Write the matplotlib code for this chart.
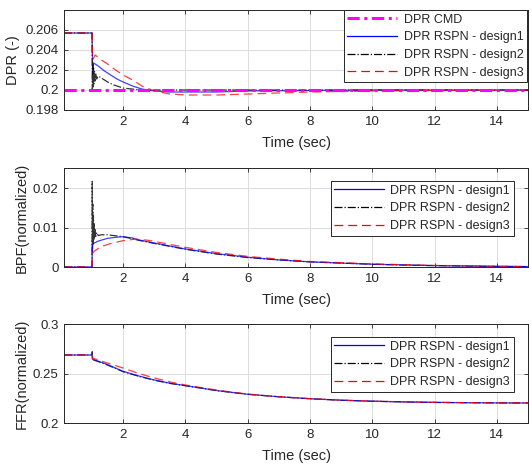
import matplotlib
matplotlib.use("Agg")
import matplotlib.pyplot as plt
from matplotlib.lines import Line2D

plt.rcParams['font.family'] = ['Liberation Sans', 'DejaVu Sans']

# ---------------- data ----------------
dpr_cmd_t = [0.1, 15.0]
dpr_cmd = [0.2, 0.2]

dpr1_t = [0.1, 1.0, 1.02, 1.05, 1.2, 1.4, 1.6, 1.8, 2.0, 2.3, 2.6, 3.0, 3.5, 4.0, 5.0, 6.0, 8.0, 10.0, 15.0]
dpr1 = [0.2057, 0.2057, 0.2016, 0.2027, 0.2024, 0.2019, 0.2015, 0.2011, 0.2008, 0.2004, 0.2001,
        0.1999, 0.1998, 0.1998, 0.1998, 0.1999, 0.19995, 0.2, 0.2]

dpr2_t = [0.1, 1.0, 1.01, 1.02, 1.035, 1.05, 1.065, 1.08, 1.10, 1.12, 1.15, 1.2, 1.3, 1.5, 1.7,
          2.0, 2.4, 3.0, 15.0]
dpr2 = [0.2057, 0.2057, 0.2000, 0.2026, 0.2003, 0.2022, 0.2006, 0.2019, 0.2009, 0.2016, 0.2011,
        0.2014, 0.2012, 0.2008, 0.2005, 0.2002, 0.20005, 0.2, 0.2]

dpr3_t = [0.1, 1.0, 1.02, 1.1, 1.3, 1.5, 1.8, 2.0, 2.3, 2.6, 3.0, 3.5, 4.0, 4.5, 5.0, 6.0, 7.0,
          8.0, 10.0, 12.0, 15.0]
dpr3 = [0.2057, 0.2057, 0.2030, 0.2035, 0.2030, 0.2026, 0.2019, 0.2015, 0.2010, 0.2004, 0.1999,
        0.1996, 0.1995, 0.1995, 0.1995, 0.1996, 0.1997, 0.1998, 0.1999, 0.19995, 0.2]

bpf1_t = [0.1, 1.0, 1.01, 1.05, 1.2, 1.5, 1.8, 2.0, 2.3, 2.5, 3.0, 4.0, 5.0, 6.0, 7.0, 8.0, 10.0,
          12.0, 14.0, 15.0]
bpf1 = [0.0, 0.0, 0.0055, 0.0060, 0.0066, 0.0073, 0.0076, 0.0077, 0.0074, 0.0069, 0.0061, 0.0046,
        0.0034, 0.0025, 0.0018, 0.0013, 0.0007, 0.00035, 0.00015, 0.0001]

bpf2_t = [0.1, 1.0, 1.005, 1.015, 1.025, 1.035, 1.045, 1.055, 1.065, 1.08, 1.1, 1.12, 1.15, 1.2,
          1.3, 1.5, 1.8, 2.0, 2.5, 3.0, 4.0, 5.0, 6.0, 7.0, 8.0, 9.0, 10.0, 11.0, 12.0, 13.0,
          14.0, 15.0]
bpf2 = [0.0, 0.0, 0.0218, 0.0040, 0.0160, 0.0060, 0.0130, 0.0070, 0.0110, 0.0075, 0.0095, 0.0078,
        0.0088, 0.0080, 0.0082, 0.0082, 0.0079, 0.0077, 0.0068, 0.0060, 0.0045, 0.0033, 0.0024,
        0.0018, 0.0013, 0.0010, 0.0007, 0.0005, 0.00035, 0.00025, 0.00015, 0.0001]

bpf3_t = [0.1, 1.0, 1.01, 1.1, 1.3, 1.6, 2.0, 2.4, 2.8, 3.0, 4.0, 5.0, 6.0, 7.0, 8.0, 10.0, 12.0,
          14.0, 15.0]
bpf3 = [0.0, 0.0, 0.0035, 0.0042, 0.0052, 0.0060, 0.0067, 0.0071, 0.0068, 0.0065, 0.0050, 0.0037,
        0.0027, 0.0020, 0.0014, 0.0008, 0.0004, 0.0002, 0.00012]

ffr1_t = [0.1, 1.0, 1.01, 1.2, 1.5, 2.0, 2.5, 3.0, 3.5, 4.0, 5.0, 6.0, 7.0, 8.0, 9.0, 10.0, 11.0,
          12.0, 13.0, 14.0, 15.0]
ffr1 = [0.2687, 0.2687, 0.2645, 0.2625, 0.2590, 0.2522, 0.2475, 0.2435, 0.2402, 0.2378, 0.2328,
        0.2290, 0.2265, 0.2245, 0.2230, 0.2220, 0.2213, 0.2208, 0.2205, 0.2203, 0.2202]

ffr2_t = [0.1, 1.0, 1.005, 1.02, 1.2, 1.5, 2.0, 2.5, 3.0, 3.5, 4.0, 5.0, 6.0, 7.0, 8.0, 9.0, 10.0,
          11.0, 12.0, 13.0, 14.0, 15.0]
ffr2 = [0.2687, 0.2687, 0.2720, 0.2640, 0.2620, 0.2585, 0.2518, 0.2472, 0.2432, 0.2400, 0.2376,
        0.2327, 0.2290, 0.2265, 0.2245, 0.2230, 0.2220, 0.2213, 0.2208, 0.2205, 0.2203, 0.2202]

ffr3_t = [0.1, 1.0, 1.02, 1.5, 2.0, 2.5, 3.0, 3.5, 4.0, 5.0, 6.0, 7.0, 8.0, 9.0, 10.0, 11.0, 12.0,
          13.0, 14.0, 15.0]
ffr3 = [0.2687, 0.2687, 0.2655, 0.2605, 0.2555, 0.2500, 0.2455, 0.2415, 0.2384, 0.2332, 0.2292,
        0.2266, 0.2246, 0.2231, 0.2221, 0.2214, 0.2209, 0.2206, 0.2204, 0.2203]

x_ticks = [2, 4, 6, 8, 10, 12, 14]
legend_labels = ['DPR CMD', 'DPR RSPN - design1', 'DPR RSPN - design2', 'DPR RSPN - design3']

# ---------------- styles ----------------
c_blue = '#0000ff'
c_black = '#000000'
c_red = '#ff0000'
c_mag = '#ff00ff'
txt = '#262626'
TICK_FS = 9.5
LABEL_FS = 10.5
LEG_FS = 9

fig = plt.figure(figsize=(5.32, 4.66), dpi=100)
W, H = 532, 466

def make_ax(top, bottom):
    ax = fig.add_axes([64 / W, 1 - bottom / H, (528 - 64) / W, (bottom - top) / H])
    ax.set_xlim(0.1, 15)
    ax.set_xticks(x_ticks)
    ax.grid(True, color='#dcdcdc', linewidth=0.7)
    ax.set_axisbelow(True)
    ax.tick_params(direction='in', top=True, right=True, labelsize=TICK_FS, colors=txt,
                   length=3, width=0.6, pad=4)
    for s in ax.spines.values():
        s.set_color('#262626')
        s.set_linewidth(0.7)
    ax.set_xlabel('Time (sec)', fontsize=LABEL_FS, color=txt, labelpad=6)
    return ax

def style_legend(lg):
    lg.get_frame().set_linewidth(0.7)
    for t in lg.get_texts():
        t.set_color(txt)

leg_kw = dict(fontsize=LEG_FS, frameon=True, fancybox=False, edgecolor='#262626', framealpha=1,
              borderpad=0.3, labelspacing=0.45, handlelength=4.0, handletextpad=0.5,
              borderaxespad=0.0)

ax1 = make_ax(10, 110)
ax1.plot(dpr1_t, dpr1, color=c_blue, lw=0.9, alpha=0.75)
ax1.plot(dpr2_t, dpr2, color=c_black, lw=0.9, ls='-.', alpha=0.8)
ax1.plot(dpr3_t, dpr3, color=c_red, lw=0.9, ls=(0, (7, 4)), alpha=0.75)
ax1.plot(dpr_cmd_t, dpr_cmd, color=c_mag, lw=2.2, ls=(0, (4, 1.5, 1, 1.5)))
ax1.set_ylim(0.198, 0.208)
ax1.set_yticks([0.198, 0.2, 0.202, 0.204, 0.206])
ax1.set_yticklabels(['0.198', '0.2', '0.202', '0.204', '0.206'])
ax1.set_ylabel('DPR (-)', fontsize=LABEL_FS, color=txt, labelpad=4)
h1 = [Line2D([], [], color=c_mag, lw=2.2, ls=(0, (4, 1.5, 1, 1.5))),
      Line2D([], [], color=c_blue, lw=0.9),
      Line2D([], [], color=c_black, lw=0.9, ls='-.'),
      Line2D([], [], color=c_red, lw=0.9, ls=(0, (7, 4)))]
leg = ax1.legend(h1, legend_labels, loc='upper right', bbox_to_anchor=(0.998, 1.0), **leg_kw)
style_legend(leg)

ax2 = make_ax(168, 267)
ax2.plot(bpf2_t, bpf2, color=c_black, lw=0.9, ls='-.', alpha=0.8)
ax2.plot(bpf1_t, bpf1, color=c_blue, lw=0.9, alpha=0.75)
ax2.plot(bpf3_t, bpf3, color=c_red, lw=0.9, ls=(0, (7, 4)), alpha=0.75)
ax2.set_ylim(0, 0.0252)
ax2.set_yticks([0, 0.01, 0.02])
ax2.set_yticklabels(['0', '0.01', '0.02'])
ax2.set_ylabel('BPF(normalized)', fontsize=LABEL_FS, color=txt, labelpad=3)

ax3 = make_ax(324, 423)
ax3.plot(ffr2_t, ffr2, color=c_black, lw=0.9, ls='-.', alpha=0.8)
ax3.plot(ffr1_t, ffr1, color=c_blue, lw=0.9, alpha=0.75)
ax3.plot(ffr3_t, ffr3, color=c_red, lw=0.9, ls=(0, (7, 4)), alpha=0.75)
ax3.set_ylim(0.2, 0.3)
ax3.set_yticks([0.2, 0.25, 0.3])
ax3.set_yticklabels(['0.2', '0.25', '0.3'])
ax3.set_ylabel('FFR(normalized)', fontsize=LABEL_FS, color=txt, labelpad=3)

for ax in (ax2, ax3):
    lg = ax.legend(h1[1:], legend_labels[1:], loc='upper right',
                   bbox_to_anchor=(1 - 14 / 464, 1 - 13 / 99), **leg_kw)
    style_legend(lg)

fig.savefig('out.png', dpi=100)
